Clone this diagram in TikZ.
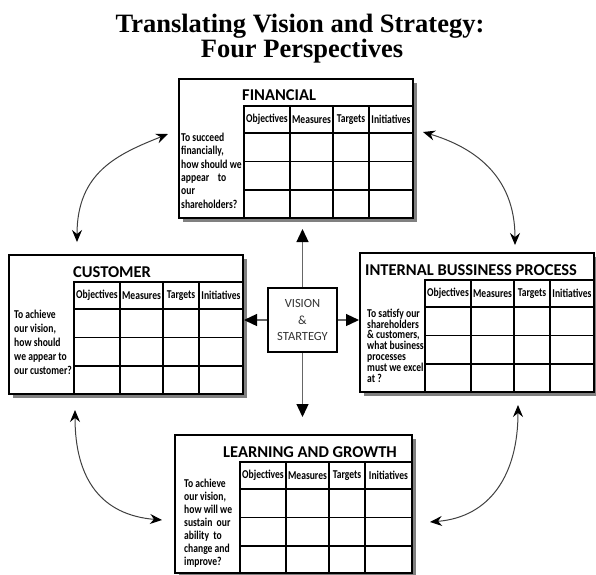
\documentclass[tikz,border=0pt]{standalone}
\usepackage{fontspec}
\setmainfont{Liberation Serif}
\newfontfamily\boxfont{Carlito}
\newfontfamily\condfont[FakeStretch=0.8]{Carlito}
\usetikzlibrary{arrows.meta,shadows,calc}

\tikzset{
 pbox/.style={draw=black, line width=2pt, fill=white, rectangle, inner sep=0pt,
   drop shadow={shadow xshift=4pt, shadow yshift=-4pt, fill=black!50, opacity=1}},
 tline/.style={draw=black, line width=1.1pt},
 hdr/.style={font=\condfont\bfseries\fontsize{12}{12}\selectfont, inner sep=0pt},
 ques/.style={align=left, anchor=north west, inner sep=0pt},
 ptitle/.style={font=\boxfont\bfseries\fontsize{16.5}{18}\selectfont, anchor=base west, inner sep=0pt},
 visbox/.style={draw=black, line width=2pt, fill=white, minimum width=69pt, minimum height=64pt,
   align=center, font=\boxfont\fontsize{12.5}{16.5}\selectfont, text=black!80, inner sep=0pt},
 varrow/.style={draw=black!60, line width=1.3pt, -{Triangle[length=13pt,width=12pt,color=black]}},
 carrow/.style={draw=black!75, line width=1pt,
   {Stealth[length=12pt,width=10pt,inset=4pt,color=black]}-{Stealth[length=12pt,width=10pt,inset=4pt,color=black]}},
 ttl/.style={font=\bfseries\fontsize{26.5}{26.5}\selectfont, anchor=base, inner sep=0pt},
}

\newcommand\bsctab[3]{%
 \begin{scope}[shift={(#1.north west)}]
  \draw[tline] (66,28) rectangle (#2,#3);
  \foreach \yy in {55,83.5,112} {\draw[tline] (66,\yy) -- (#2,\yy);}
  \foreach \xx in {112,155,191} {\draw[tline] (\xx,28) -- (\xx,#3);}
  \node[hdr] (#1h1) at (89,41.5) {Objectives};
  \node[hdr] (#1h2) at (133.5,41.5) {Measures};
  \node[hdr] (#1h3) at (173,41.5) {Targets};
  \node[hdr] (#1h4) at ({(191+#2)/2},41.5) {Initiatives};
 \end{scope}}

\begin{document}
\begin{tikzpicture}[x=1pt,y=-1pt]
\useasboundingbox (0,0) rectangle (596,574);

\node[ttl] (t1) at (300,32) {Translating Vision and Strategy:};
\node[ttl] (t2) at (302,57) {Four Perspectives};

\node[pbox, minimum width=234pt, minimum height=139pt] (fin) at (296,148.5) {};
\node[pbox, minimum width=234pt, minimum height=139pt] (cus) at (126,324.5) {};
\node[pbox, minimum width=234pt, minimum height=139pt] (ibp) at (477,322.5) {};
\node[pbox, minimum width=237pt, minimum height=138pt] (lg) at (293.5,504) {};

\bsctab{fin}{235}{140}
\bsctab{cus}{235}{140}
\bsctab{ibp}{235}{140}
\bsctab{lg}{238}{139}

\node[ptitle] (finT) at (242,100) {FINANCIAL};
\node[ptitle] (cusT) at (73,277) {CUSTOMER};
\node[ptitle] (ibpT) at (365,275) {INTERNAL BUSSINESS PROCESS};
\node[ptitle] (lgT) at (223,457) {LEARNING AND GROWTH};

\node[ques, font=\condfont\bfseries\fontsize{12}{13.4}\selectfont] (finQ) at (181,132.6)
  {To succeed\\financially,\\how should we\\appear \ \ \ to\\our\\shareholders?};
\node[ques, font=\condfont\bfseries\fontsize{12}{14}\selectfont] (cusQ) at (14,309.6)
  {To achieve\\our vision,\\how should\\we appear to\\our customer?};
\node[ques, font=\condfont\bfseries\fontsize{12}{10.8}\selectfont] (ibpQ) at (367,308.6)
  {To satisfy our\\shareholders\\\& customers,\\what business\\processes\\must we excel\\at ?};
\node[ques, font=\condfont\bfseries\fontsize{12}{13}\selectfont] (lgQ) at (184,478.6)
  {To achieve\\our vision,\\how will we\\sustain \ our\\ability \ to\\change and\\improve?};

\node[visbox] (vis) at (302.5,320) {VISION\\\&\\STARTEGY};

\draw[varrow, shorten >=10pt] (vis.north) -- (vis.north |- fin.south);
\draw[varrow, shorten >=17pt] (vis.south) -- (vis.south |- lg.north);
\draw[varrow] (vis.west) -- (vis.west -| cus.east);
\draw[varrow] (vis.east) -- (vis.east -| ibp.west);

\coordinate (c1a) at (168,134);
\coordinate (c1b) at (77,242);
\coordinate (c2a) at (423,132);
\coordinate (c2b) at (515,245);
\coordinate (c3a) at (75,410);
\coordinate (c3b) at (162,520);
\coordinate (c4a) at (518,405);
\coordinate (c4b) at (430,522);
\draw[carrow] (c1a) .. controls +(-50,20) and +(0,-70) .. (c1b);
\draw[carrow] (c2a) .. controls +(50,15) and +(0,-70) .. (c2b);
\draw[carrow] (c3a) .. controls +(0,70) and +(-60,-5) .. (c3b);
\draw[carrow] (c4a) .. controls +(0,70) and +(60,-5) .. (c4b);
\end{tikzpicture}
\end{document}
